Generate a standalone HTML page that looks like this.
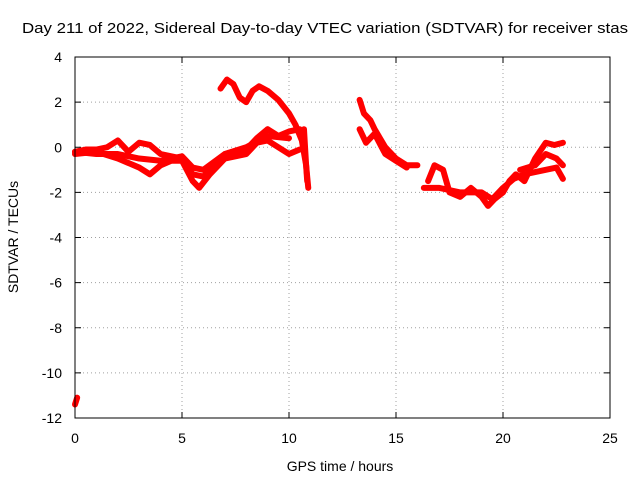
<!DOCTYPE html>
<html><head><meta charset="utf-8"><style>
html,body{margin:0;padding:0;background:#fff;}
svg{display:block;font-family:"Liberation Sans",sans-serif;}
</style></head><body>
<svg id="chart" width="640" height="480">
<text x="22" y="33" font-size="15" fill="#000" textLength="606" lengthAdjust="spacingAndGlyphs">Day 211 of 2022, Sidereal Day-to-day VTEC variation (SDTVAR) for receiver stas</text>
<g id="grid"></g>
<g id="ticks"></g>
<g id="series"></g>
<rect x="75" y="57" width="535" height="361" fill="none" stroke="#000" stroke-width="1"/>
<text x="340" y="471" font-size="14" text-anchor="middle">GPS time / hours</text>
<text transform="translate(18,237) rotate(-90)" font-size="14" text-anchor="middle">SDTVAR / TECUs</text>
</svg>
<script>
const xTicks=[0,5,10,15,20,25];
const yTicks=[4,2,0,-2,-4,-6,-8,-10,-12];
const trackA=[[0,-0.2],[0.5,-0.1],[1,-0.1],[1.5,0],[2,0.3],[2.5,-0.2],[3,0.2],[3.5,0.1],[4,-0.3],[5,-0.5],[5.5,-1.2],[6,-1.3],[6.5,-0.8],[7,-0.4],[8,-0.1],[8.5,0.4],[9,0.8],[9.5,0.5],[10,0.7],[10.5,0.8]];
const trackB=[[0,-0.3],[1,-0.2],[2,-0.5],[3,-0.9],[3.5,-1.2],[4,-0.8],[4.5,-0.6],[5,-0.6],[5.5,-1.5],[5.8,-1.8],[6.3,-1.2],[7,-0.5],[8,-0.3],[8.5,0.2],[9,0.3],[9.5,0],[10,-0.3],[10.5,-0.1]];
const trackC=[[0,-0.2],[1,-0.3],[2,-0.3],[3,-0.5],[4,-0.6],[5,-0.4],[5.5,-0.9],[6,-1.0],[7,-0.3],[8,0],[9,0.5],[10,0.4]];
const trackD=[[6.8,2.6],[7.1,3.0],[7.4,2.8],[7.7,2.2],[8,2.0],[8.3,2.5],[8.6,2.7],[9,2.5],[9.5,2.1],[10,1.5],[10.3,1.0],[10.6,0.3],[10.8,-0.8],[10.9,-1.8]];
const trackD2=[[10.7,0.8],[10.75,0],[10.8,-0.8],[10.85,-1.5]];
const trackOut=[[0,-11.4],[0.1,-11.1]];
const trackE=[[13.3,2.1],[13.5,1.5],[13.8,1.2],[14,0.8],[14.5,0],[15,-0.5],[15.5,-0.8],[16,-0.8]];
const trackF=[[13.3,0.8],[13.6,0.2],[14,0.6],[14.5,-0.3],[15,-0.6],[15.5,-0.9]];
const trackG=[[16.5,-1.5],[16.8,-0.8],[17.2,-1.0],[17.5,-2.0],[18,-2.2],[18.5,-1.8],[19,-2.2],[19.3,-2.6],[19.6,-2.3],[20,-2.0],[20.3,-1.5],[20.6,-1.2],[21,-1.5],[21.5,-0.5],[22,0.2],[22.4,0.1],[22.8,0.2]];
const trackH=[[16.3,-1.8],[17,-1.8],[18,-2.0],[19,-2.0],[19.5,-2.3],[20,-1.8],[20.5,-1.4],[21,-1.2],[22,-1.0],[22.5,-0.9],[22.8,-1.4]];
const trackI=[[20.8,-1.0],[21.5,-0.8],[22,-0.3],[22.5,-0.5],[22.8,-0.8]];
const tracks=[trackA,trackB,trackC,trackD,trackD2,trackOut,trackE,trackF,trackG,trackH,trackI];
const NS='http://www.w3.org/2000/svg';
const X=v=>75+v*535/25, Y=v=>57+(4-v)*361/16;
const grid=document.getElementById('grid'),ticks=document.getElementById('ticks'),ser=document.getElementById('series');
function mk(tag,a,p){const e=document.createElementNS(NS,tag);for(const k in a)e.setAttribute(k,a[k]);p.appendChild(e);return e;}
xTicks.forEach(t=>{const x=X(t);
 if(t>0&&t<25){const l=mk('line',{x1:x,x2:x,y1:57,y2:418,stroke:'#a0a0a0','stroke-dasharray':'1,3'},grid);
 
 }
 mk('line',{x1:x,x2:x,y1:418,y2:412,stroke:'#000'},ticks);
 mk('line',{x1:x,x2:x,y1:57,y2:63,stroke:'#000'},ticks);
 const tx=mk('text',{x:x,y:443,'font-size':14,'text-anchor':'middle'},ticks);tx.textContent=t;
 
 });
yTicks.forEach(t=>{const y=Y(t);
 if(t<4&&t>-12){const l=mk('line',{x1:75,x2:610,y1:y,y2:y,stroke:'#a0a0a0','stroke-dasharray':'1,3'},grid);
 
 }
 mk('line',{x1:75,x2:81,y1:y,y2:y,stroke:'#000'},ticks);
 mk('line',{x1:610,x2:604,y1:y,y2:y,stroke:'#000'},ticks);
 const tx=mk('text',{x:62,y:y+5,'font-size':14,'text-anchor':'end'},ticks);tx.textContent=t;
 
 });
tracks.forEach((tr,i)=>{
 const pl=mk('polyline',{points:tr.map(p=>X(p[0])+','+Y(p[1])).join(' '),fill:'none',stroke:'#ff0000','stroke-width':6,'stroke-linejoin':'round','stroke-linecap':'round'},ser);
 
 
});
</script>
</body></html>
